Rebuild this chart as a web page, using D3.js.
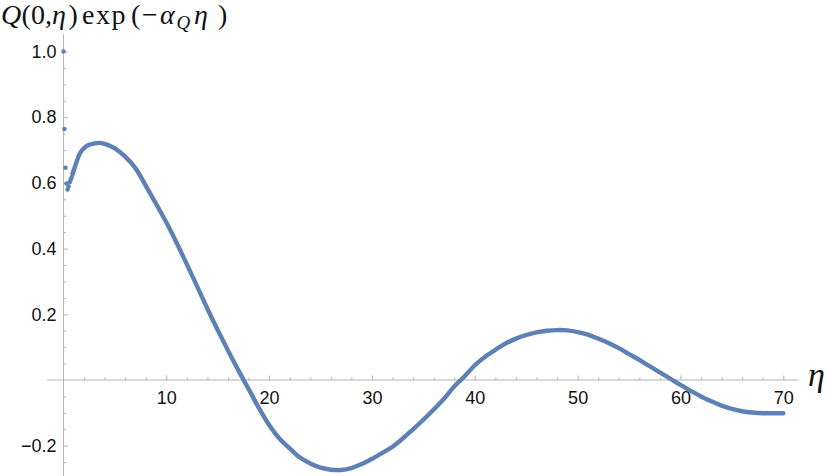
<!DOCTYPE html>
<html>
<head>
<meta charset="utf-8">
<script src="https://cdn.jsdelivr.net/npm/d3@7"></script>
<style>
  body { margin: 0; background: #fff; }
  svg { display: block; }
  .tick text { font-family: "Liberation Sans", Arial, sans-serif; font-size: 18px; fill: #111; }
</style>
</head>
<body>
<svg id="chart" width="830" height="476"></svg>
<script>
// values
const etaVals = [0, 0.1, 0.2, 0.3, 0.4, 0.5, 0.6, 0.7, 0.8, 0.9, 1.0, 1.3, 1.6, 2.0, 2.5, 3.0, 3.5, 4.0, 4.5, 5,
    6, 7, 8, 9, 10, 11, 12, 13, 14, 15, 16, 17, 18, 19, 20, 21, 22, 23, 24, 25, 26, 27, 28, 29, 30,
    31, 32, 33, 34, 35, 36, 37, 38, 39, 40, 41, 42, 43, 44, 45, 46, 47, 48, 49, 50,
    51, 52, 53, 54, 55, 56, 57, 58, 59, 60, 61, 62, 63, 64, 65, 66, 67, 68, 69, 70];
const qVals = [1.0, 0.764, 0.646, 0.598, 0.580, 0.589, 0.602, 0.610, 0.617, 0.628, 0.638, 0.666, 0.690, 0.706, 0.716, 0.720, 0.722, 0.719, 0.713, 0.705,
    0.680, 0.645, 0.592, 0.537, 0.480, 0.418, 0.352, 0.285, 0.217, 0.152, 0.090, 0.030, -0.027, -0.085, -0.137, -0.178, -0.208, -0.236, -0.254, -0.267, -0.273, -0.274, -0.268, -0.256, -0.240,
    -0.222, -0.203, -0.178, -0.150, -0.121, -0.090, -0.057, -0.020, 0.011, 0.045, 0.071, 0.092, 0.111, 0.126, 0.137, 0.145, 0.150, 0.152, 0.151, 0.146,
    0.138, 0.126, 0.113, 0.097, 0.079, 0.061, 0.042, 0.023, 0.004, -0.015, -0.033, -0.050, -0.065, -0.078, -0.088, -0.095, -0.099, -0.101, -0.101, -0.101];
const xTickLabels = [10, 20, 30, 40, 50, 60, 70];
const yTickLabels = [-0.2, 0.2, 0.4, 0.6, 0.8, 1.0];

const points = etaVals.map((e, i) => ({ eta: e, q: qVals[i] }));

const svg = d3.select("#chart");
const blue = "#5e81b5";
const axisGray = "#b3b3b3";
const serif = "'Liberation Serif', 'Times New Roman', serif";

let x = d3.scaleLinear().domain([-1.6, 71.4]).range([47, 797.7]);
let y = d3.scaleLinear().domain([-0.2922, 1.0533]).range([476, 34]);

// axis lines
svg.append("line")
    .attr("x1", x.range()[0]).attr("x2", x.range()[1])
    .attr("y1", y(0)).attr("y2", y(0))
    .attr("stroke", axisGray).attr("stroke-width", 1);
svg.append("line")
    .attr("x1", x(0)).attr("x2", x(0))
    .attr("y1", y.range()[0]).attr("y2", y.range()[1])
    .attr("stroke", axisGray).attr("stroke-width", 1);

// minor ticks
let xMinor = d3.range(2, 71, 2).filter(d => d % 10 != 0);
let yMinor = d3.range(-0.25, 1.05, 0.05).map(d => +d.toFixed(2)).filter(d => Math.abs(Math.round(d * 100)) % 20 != 0);

svg.append("g")
    .attr("transform", "translate(0," + y(0) + ")")
    .call(d3.axisBottom(x).tickValues(xMinor).tickSizeInner(-2.5).tickSizeOuter(0).tickFormat(""))
    .call(g => g.select(".domain").remove())
    .selectAll("line").attr("stroke", axisGray);

svg.append("g")
    .attr("transform", "translate(" + x(0) + ",0)")
    .call(d3.axisLeft(y).tickValues(yMinor).tickSizeInner(-2.5).tickSizeOuter(0).tickFormat(""))
    .call(g => g.select(".domain").remove())
    .selectAll("line").attr("stroke", axisGray);

// major ticks + labels
let xAxis = svg.append("g")
    .attr("transform", "translate(0," + y(0) + ")")
    .call(d3.axisBottom(x).tickValues(xTickLabels).tickSizeInner(-4.5).tickSizeOuter(0).tickPadding(11))
    .call(g => g.select(".domain").remove());
xAxis.selectAll("line").attr("stroke", axisGray);

let yAxis = svg.append("g")
    .attr("transform", "translate(" + x(0) + ",0)")
    .call(d3.axisLeft(y).tickValues(yTickLabels).tickSizeInner(-4.5).tickSizeOuter(0).tickPadding(7)
        .tickFormat(d => (d < 0 ? "\u2212" : "") + Math.abs(d).toFixed(1)))
    .call(g => g.select(".domain").remove());
yAxis.selectAll("line").attr("stroke", axisGray);

// data: line for the smooth part, dots for the scattered start
let line = d3.line()
    .x(d => x(d.eta))
    .y(d => y(d.q))
    .curve(d3.curveCatmullRom);

svg.append("path")
    .datum(points.filter(d => d.eta >= 0.9))
    .attr("d", line)
    .attr("fill", "none")
    .attr("stroke", blue)
    .attr("stroke-width", 4.4)
    .attr("stroke-linecap", "round");

svg.selectAll("circle.pt")
    .data(points.filter(d => d.eta < 1.3))
    .enter()
    .append("circle")
    .attr("class", "pt")
    .attr("cx", d => x(d.eta))
    .attr("cy", d => y(d.q))
    .attr("r", 2.3)
    .attr("fill", blue);

// title, set piece by piece like typeset math (one text element)
let titleParts = [
    { t: "Q", x: 1, it: true },
    { t: "(", x: 21.5, it: false },
    { t: "0", x: 31, it: false },
    { t: ",", x: 45, it: false },
    { t: "η", x: 52, it: true },
    { t: ")", x: 68.5, it: false },
    { t: "exp", x: 82, it: false, ls: 1.5 },
    { t: "(", x: 131, it: false },
    { t: "−", x: 142, it: false },
    { t: "α", x: 160, it: true },
    { t: "Q", x: 176.5, it: true, sub: true },
    { t: "η", x: 194, it: true },
    { t: ")", x: 218, it: false }
];
let title = svg.append("text")
    .attr("font-family", serif)
    .attr("font-size", "28px")
    .attr("fill", "#111");
title.selectAll("tspan")
    .data(titleParts)
    .enter()
    .append("tspan")
    .attr("x", d => d.x)
    .attr("y", d => d.sub ? 29 : 24)
    .attr("font-size", d => d.sub ? "19px" : null)
    .attr("font-style", d => d.it ? "italic" : "normal")
    .attr("letter-spacing", d => d.ls || 0)
    .text(d => d.t);

svg.append("text")
    .attr("x", 808).attr("y", 386)
    .attr("font-family", serif)
    .attr("font-style", "italic")
    .attr("font-size", "34px")
    .attr("fill", "#111")
    .text("η");
</script>
</body>
</html>
